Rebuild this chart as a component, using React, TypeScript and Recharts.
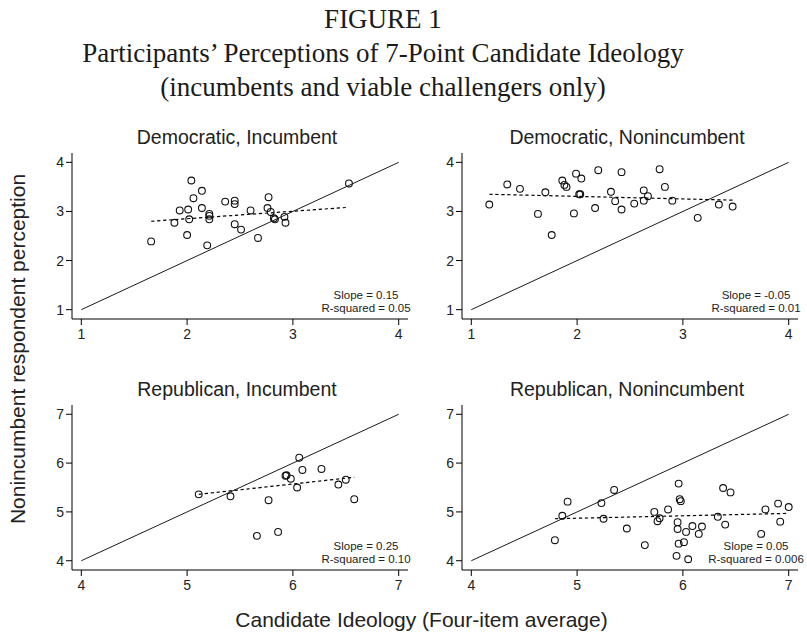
import React from 'react'
import { ScatterChart, Scatter, XAxis, YAxis, ReferenceLine } from 'recharts'

// Democratic, incumbent
const demIncIdeology = [1.66, 1.88, 1.93, 2.01, 2.02, 2.0, 2.04, 2.06, 2.14, 2.14, 2.19, 2.21, 2.21, 2.21, 2.36, 2.45, 2.45, 2.45, 2.51, 2.6, 2.67, 2.77, 2.76, 2.79, 2.82, 2.83, 2.92, 2.93, 3.53]
const demIncPerception = [2.39, 2.77, 3.02, 3.04, 2.84, 2.52, 3.63, 3.27, 3.42, 3.07, 2.31, 2.95, 2.91, 2.84, 3.2, 3.22, 3.15, 2.74, 2.63, 3.02, 2.46, 3.29, 3.07, 2.99, 2.86, 2.84, 2.89, 2.77, 3.57]
const demIncFit = [[1.66, 2.8], [3.5, 3.08]]

// Democratic, nonincumbent
const demNonIdeology = [1.17, 1.34, 1.46, 1.63, 1.7, 1.76, 1.86, 1.88, 1.9, 1.97, 1.99, 2.02, 2.03, 2.04, 2.17, 2.2, 2.32, 2.36, 2.42, 2.42, 2.54, 2.63, 2.63, 2.67, 2.78, 2.83, 2.9, 3.14, 3.34, 3.47]
const demNonPerception = [3.14, 3.55, 3.46, 2.95, 3.39, 2.52, 3.63, 3.54, 3.5, 2.96, 3.77, 3.35, 3.35, 3.67, 3.07, 3.84, 3.4, 3.21, 3.8, 3.04, 3.16, 3.43, 3.22, 3.31, 3.86, 3.5, 3.22, 2.87, 3.14, 3.1]
const demNonFit = [[1.17, 3.35], [3.47, 3.23]]

// Republican, incumbent
const repIncIdeology = [5.11, 5.41, 5.66, 5.77, 5.86, 5.93, 5.94, 5.98, 6.04, 6.06, 6.09, 6.27, 6.43, 6.5, 6.58]
const repIncPerception = [5.36, 5.32, 4.51, 5.24, 4.59, 5.74, 5.75, 5.68, 5.5, 6.11, 5.86, 5.88, 5.56, 5.66, 5.26]
const repIncFit = [[5.11, 5.36], [6.58, 5.71]]

// Republican, nonincumbent
const repNonIdeology = [4.79, 4.86, 4.91, 5.23, 5.25, 5.35, 5.47, 5.64, 5.73, 5.76, 5.78, 5.86, 5.94, 5.95, 5.96, 5.95, 5.97, 5.98, 5.96, 6.01, 6.03, 6.05, 6.09, 6.15, 6.18, 6.33, 6.38, 6.4, 6.45, 6.74, 6.78, 6.9, 6.92, 7.0]
const repNonPerception = [4.42, 4.92, 5.21, 5.18, 4.86, 5.45, 4.66, 4.32, 5.0, 4.81, 4.87, 5.05, 4.1, 4.79, 5.58, 4.65, 5.26, 5.22, 4.35, 4.38, 4.59, 4.03, 4.71, 4.55, 4.7, 4.9, 5.49, 4.74, 5.4, 4.55, 5.05, 5.17, 4.8, 5.1]
const repNonFit = [[4.79, 4.86], [7.0, 4.97]]

const demTicks = [1, 2, 3, 4]
const repTicks = [4, 5, 6, 7]

const SANS = '"Liberation Sans", Arial, Helvetica, sans-serif'
const SERIF = '"Liberation Serif", "Times New Roman", serif'
const INK = '#222'

const OpenCircle = (props: any) => (
  <circle cx={props.cx} cy={props.cy} r={3.4} fill="none" stroke="#111" strokeWidth={1.1} />
)

interface PanelProps {
  left: number
  top: number
  plotH: number
  title: string
  xs: number[]
  ys: number[]
  fit: number[][]
  ticks: number[]
  slope: string
  r2: string
}

function Panel({ left, top, plotH, title, xs, ys, fit, ticks, slope, r2 }: PanelProps) {
  const data = xs.map((x, i) => ({ x, y: ys[i] }))
  const lo = ticks[0]
  const hi = ticks[ticks.length - 1]
  const plotLeft = left + 32
  const plotTop = top + 10
  const plotBottom = plotTop + plotH
  return (
    <>
      <div style={{
        position: 'absolute', left: plotLeft - 170 + 165, top: plotTop - 28, width: 340,
        textAlign: 'center', fontFamily: SANS, fontSize: 19.5, color: INK, lineHeight: '24px',
      }}>{title}</div>
      <div style={{ position: 'absolute', left, top }}>
        <ScatterChart width={370} height={10 + plotH + 30} margin={{ top: 10, right: 2, bottom: 0, left: 2 }}>
          <XAxis
            type="number" dataKey="x" domain={[lo - 0.088, hi + 0.088]} ticks={ticks}
            allowDataOverflow height={30} tickSize={6} tickMargin={4}
            axisLine={{ stroke: '#000', strokeWidth: 1 }} tickLine={{ stroke: '#000' }}
            tick={{ fill: INK, fontSize: 14, fontFamily: SANS }}
          />
          <YAxis
            type="number" dataKey="y" domain={[lo - 0.19, hi + 0.19]} ticks={ticks}
            allowDataOverflow width={30} tickSize={6} tickMargin={2}
            axisLine={{ stroke: '#000', strokeWidth: 1 }} tickLine={{ stroke: '#000' }}
            tick={{ fill: INK, fontSize: 14, fontFamily: SANS }}
          />
          <ReferenceLine
            segment={[{ x: lo, y: lo }, { x: hi, y: hi }]}
            stroke="#000" strokeWidth={0.9} ifOverflow="visible"
          />
          <ReferenceLine
            segment={[{ x: fit[0][0], y: fit[0][1] }, { x: fit[1][0], y: fit[1][1] }]}
            stroke="#000" strokeWidth={1.2} strokeDasharray="3.3 2.7" ifOverflow="visible"
          />
          <Scatter data={data} shape={OpenCircle} isAnimationActive={false} />
        </ScatterChart>
      </div>
      <div style={{
        position: 'absolute', left: plotLeft + 294 - 60, top: plotBottom - 30, width: 120,
        textAlign: 'center', fontFamily: SANS, fontSize: 11.5, color: INK, lineHeight: '13px',
        whiteSpace: 'nowrap',
      }}>
        <div>{slope}</div>
        <div>{r2}</div>
      </div>
    </>
  )
}

export default function App() {
  return (
    <div style={{ position: 'absolute', left: 0, top: 0, width: 807, height: 638, overflow: 'hidden', background: '#fff' }}>
      <div style={{
        position: 'absolute', left: 0, top: 2, width: 766, textAlign: 'center',
        fontFamily: SERIF, fontSize: 27, color: '#1a1a1a', lineHeight: '34px',
      }}>
        <div>FIGURE 1</div>
        <div>Participants’ Perceptions of 7-Point Candidate Ideology</div>
        <div>(incumbents and viable challengers only)</div>
      </div>

      <Panel left={40} top={143} plotH={166} title="Democratic, Incumbent"
        xs={demIncIdeology} ys={demIncPerception} fit={demIncFit} ticks={demTicks}
        slope="Slope = 0.15" r2="R-squared = 0.05" />
      <Panel left={430} top={143} plotH={166} title="Democratic, Nonincumbent"
        xs={demNonIdeology} ys={demNonPerception} fit={demNonFit} ticks={demTicks}
        slope="Slope = -0.05" r2="R-squared = 0.01" />
      <Panel left={40} top={395} plotH={165} title="Republican, Incumbent"
        xs={repIncIdeology} ys={repIncPerception} fit={repIncFit} ticks={repTicks}
        slope="Slope = 0.25" r2="R-squared = 0.10" />
      <Panel left={430} top={395} plotH={165} title="Republican, Nonincumbent"
        xs={repNonIdeology} ys={repNonPerception} fit={repNonFit} ticks={repTicks}
        slope="Slope = 0.05" r2="R-squared = 0.006" />

      <div style={{
        position: 'absolute', left: 17.5, top: 349, transform: 'translate(-50%, -50%) rotate(-90deg)',
        fontFamily: SANS, fontSize: 21, color: INK, whiteSpace: 'nowrap', lineHeight: '24px',
      }}>Nonincumbent respondent perception</div>
      <div style={{
        position: 'absolute', left: 0, top: 608, width: 843, textAlign: 'center',
        fontFamily: SANS, fontSize: 21, color: INK, lineHeight: '24px',
      }}>Candidate Ideology (Four-item average)</div>
    </div>
  )
}
